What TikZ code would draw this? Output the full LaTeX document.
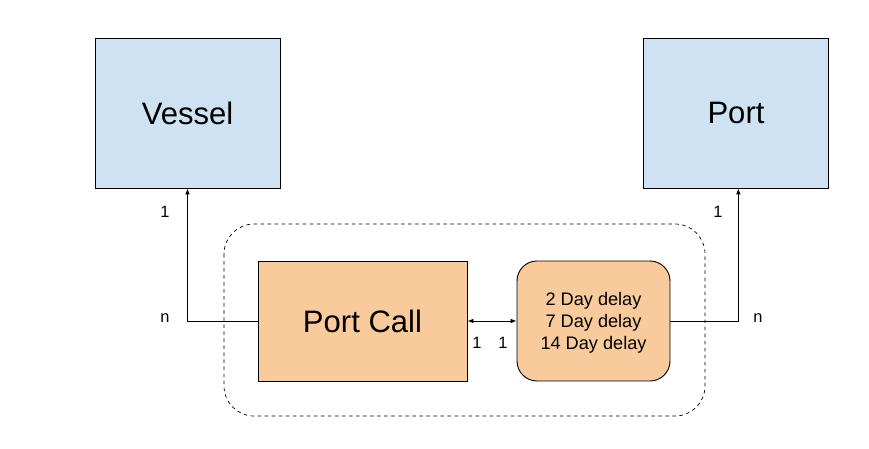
\documentclass[tikz,border=0pt]{standalone}
\usepackage{fontspec}
\setmainfont{Liberation Sans}
\usetikzlibrary{arrows.meta, positioning}
\definecolor{entitycolor}{RGB}{207, 226, 243}
\definecolor{callcolor}{RGB}{249, 203, 156}

\tikzset{
    entity/.style={draw, line width=0.8pt, fill=entitycolor, minimum width=5.55cm, minimum height=4.5cm, font=\fontsize{26.5}{30}\selectfont},
    callbox/.style={draw, line width=0.8pt, fill=callcolor, minimum width=6.27cm, minimum height=3.6cm, font=\fontsize{26.5}{30}\selectfont},
    delaybox/.style={callbox, rounded corners=0.6cm, minimum width=4.59cm, align=center, text depth=0pt, font=\fontsize{15.5}{18.7}\selectfont},
    link/.style={line width=0.8pt, -{Latex[length=5pt, width=4pt]}},
    card/.style={font=\fontsize{14}{16}\selectfont}
}

\begin{document}
\begin{tikzpicture}[x=0.03cm, y=-0.03cm]
        \useasboundingbox (0, 0) rectangle (869, 448);

        % Draw the entities
        \node[entity] (vessel) at (187.5, 113) {Vessel};
        \node[entity] (port) at (736, 113) {Port};

        % Draw the port call group
        \draw[dashed, line width=0.6pt, rounded corners=0.9cm] (224, 224) rectangle (705, 416);
        \node[callbox] (portcall) at (362.5, 321) {Port Call};
        \node[delaybox] (delay) at (593.5, 321) {2 Day delay\\7 Day delay\\14 Day delay};

        % Draw connectors
        \draw[link] (portcall.west) -| (vessel.south);
        \draw[link] (delay.east) -| ([xshift=2]port.south);
        \draw[link, {Latex[length=5pt, width=4pt]}-{Latex[length=5pt, width=4pt]}] (portcall.east) -- (delay.west);

        % Add cardinalities
        \node[card] (vesselone) at (165, 212) {1};
        \node[card] (vesseln) at (165, 318) {n};
        \node[card] (portone) at (718, 212) {1};
        \node[card] (portn) at (758, 318) {n};
        \node[card] (callone) at (477, 343) {1};
        \node[card] (delayone) at (503, 343) {1};
    \end{tikzpicture}
\end{document}
